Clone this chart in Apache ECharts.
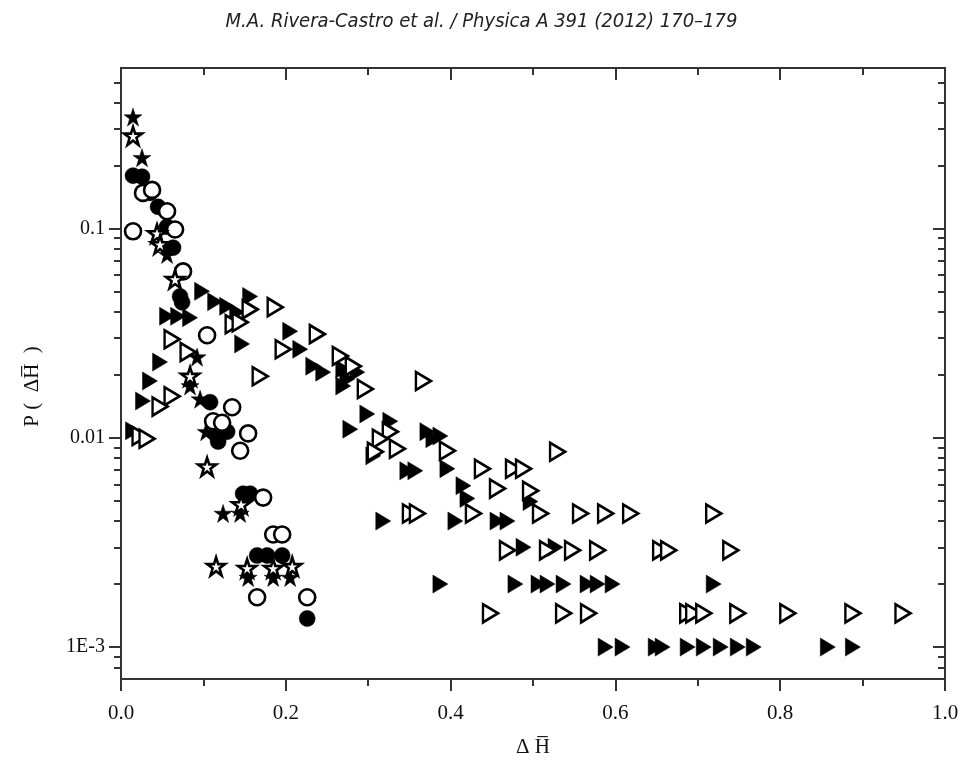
<!DOCTYPE html>
<html><head><meta charset="utf-8">
<script src="https://cdn.jsdelivr.net/npm/echarts@6/dist/echarts.min.js"></script>
<style>html,body{margin:0;padding:0;background:#fff}#c{width:963px;height:763px}</style>
</head><body><div id="c"></div>
<script>
// ---- data (x = ΔH̄, y = P) ----
const filledStars = [[0.0146,0.341],[0.0255,0.218],[0.0559,0.0752],[0.0923,0.0243],[0.0838,0.0177],[0.0960,0.0153],[0.1033,0.0107],[0.1239,0.00435],[0.1446,0.00435],[0.1543,0.00215],[0.1847,0.00215],[0.2053,0.00215]];
const openStars = [[0.0146,0.277],[0.0437,0.0946],[0.0474,0.0839],[0.0656,0.0572],[0.0838,0.0197],[0.1045,0.00727],[0.1458,0.0048],[0.1154,0.00243],[0.1531,0.00238],[0.1847,0.00238],[0.2078,0.00243]];
const filledCircles = [[0.0146,0.179],[0.0255,0.177],[0.0352,0.148],[0.0450,0.127],[0.0559,0.102],[0.0632,0.081],[0.0717,0.0474],[0.0741,0.0444],[0.1081,0.0148],[0.1166,0.0102],[0.1179,0.0096],[0.1288,0.0107],[0.1482,0.00541],[0.1567,0.00541],[0.1652,0.00274],[0.1774,0.00274],[0.1956,0.00274],[0.226,0.00137]];
const openCircles = [[0.0267,0.148],[0.0377,0.153],[0.0559,0.121],[0.0146,0.097],[0.0656,0.099],[0.0753,0.0624],[0.1045,0.0309],[0.1349,0.014],[0.1118,0.012],[0.1227,0.0118],[0.1543,0.0105],[0.1446,0.00867],[0.1725,0.00518],[0.1847,0.00345],[0.1956,0.00345],[0.1652,0.00173],[0.226,0.00173]];
const filledTriangles = [[0.0984,0.0501],[0.1567,0.0474],[0.1142,0.0447],[0.1288,0.0425],[0.1409,0.0398],[0.0559,0.0381],[0.0693,0.0381],[0.0838,0.0375],[0.2053,0.0323],[0.147,0.0281],[0.0474,0.023],[0.0352,0.0187],[0.0267,0.015],[0.0146,0.0108],[0.2175,0.0265],[0.2333,0.022],[0.2454,0.0206],[0.2697,0.0213],[0.2746,0.0191],[0.2868,0.0206],[0.2697,0.0177],[0.2989,0.013],[0.2783,0.011],[0.3268,0.012],[0.3718,0.0107],[0.3791,0.0099],[0.3876,0.0102],[0.3062,0.0082],[0.3475,0.00696],[0.3572,0.00696],[0.3961,0.00712],[0.4156,0.00591],[0.4204,0.00513],[0.497,0.00496],
 [0.3183,0.004],[0.4058,0.004],[0.4569,0.004],[0.469,0.004],
 [0.4885,0.003],[0.5273,0.003],
 [0.3876,0.002],[0.4787,0.002],[0.5067,0.002],[0.5176,0.002],[0.5371,0.002],[0.5662,0.002],[0.5784,0.002],[0.5966,0.002],[0.7193,0.002],
 [0.5881,0.001],[0.6087,0.001],[0.6489,0.001],[0.6573,0.001],[0.6877,0.001],[0.7072,0.001],[0.7278,0.001],[0.7485,0.001],[0.7679,0.001],[0.8578,0.001],[0.8882,0.001]];
const openTriangles = [[0.062,0.0296],[0.0814,0.0257],[0.1361,0.0349],[0.1567,0.0411],[0.1871,0.0421],[0.1446,0.0357],[0.1689,0.0197],[0.062,0.0158],[0.0474,0.0141],[0.0231,0.0102],[0.0316,0.0099],[0.1968,0.0265],[0.2382,0.0313],[0.2661,0.0246],[0.2819,0.022],[0.2965,0.0171],[0.367,0.0187],[0.3268,0.0107],[0.3147,0.0099],[0.3086,0.00858],[0.3354,0.00887],[0.3961,0.00867],[0.4386,0.00712],[0.4569,0.00572],[0.4763,0.00712],[0.4885,0.00712],[0.497,0.00559],[0.5298,0.00858],
 [0.3512,0.00435],[0.3597,0.00435],[0.4277,0.00435],[0.5091,0.00435],[0.5577,0.00435],[0.5881,0.00435],[0.6185,0.00435],[0.7193,0.00435],
 [0.469,0.0029],[0.5176,0.0029],[0.548,0.0029],[0.5784,0.0029],[0.6549,0.0029],[0.6646,0.0029],[0.74,0.0029],
 [0.4484,0.00145],[0.5371,0.00145],[0.5674,0.00145],[0.6877,0.00145],[0.695,0.00145],[0.7072,0.00145],[0.7485,0.00145],[0.8092,0.00145],[0.8882,0.00145],[0.949,0.00145]];

// ---- axes ----
const xMin = 0, xMax = 1.0, xStep = 0.2;
const xTickLabels = ['0.0','0.2','0.4','0.6','0.8','1.0'];
const yMin = 0.000704, yMax = 0.585;
const yMajorValues = [0.001, 0.01, 0.1];
const yTickLabels = ['1E-3', '0.01', '0.1'];
const titleText = 'M.A. Rivera-Castro et al. / Physica A 391 (2012) 170\u2013179';
const xName = '\u0394 H\u0305';
const yName = 'P (  \u0394H\u0305  )';

const L = v => Math.log10(v);
const yMinor = [];
for (let e = -4; e <= -1; e++) for (let k = 2; k <= 9; k++) {
  const v = k * Math.pow(10, e);
  if (v > yMin && v < yMax) yMinor.push(L(v));
}
const yMajor = yMajorValues.map(L);

const AX = '#333';
const serif = 'Liberation Serif';
const lineStyle = {color: AX, width: 2};

function yAx(pos, minor, inside) {
  return {
    type: 'value', position: pos, min: L(yMin), max: L(yMax),
    axisLine: {show: true, onZero: false, lineStyle},
    splitLine: {show: false},
    axisTick: {show: true, inside, length: minor ? 7 : 12, lineStyle, customValues: minor ? yMinor : yMajor},
    axisLabel: pos === 'left' && !minor ? {
      show: true, customValues: yMajor, margin: 16,
      fontFamily: serif, fontSize: 20, color: '#111',
      formatter: v => yTickLabels[yMajor.findIndex(m => Math.abs(m - v) < 1e-6)] || ''
    } : {show: false}
  };
}

const star = 'path://M50,0 L61.8,35.4 L100,35.4 L69.1,57.3 L80.9,95.1 L50,72.4 L19.1,95.1 L30.9,57.3 L0,35.4 L38.2,35.4 Z';
const toPts = arr => arr.map(p => [p[0], L(p[1])]);
function sc(name, data, symbol, size, open, rot) {
  return {
    type: 'scatter', name, data: toPts(data), symbol, symbolSize: size, symbolRotate: rot || 0,
    xAxisIndex: 0, yAxisIndex: 0, silent: true,
    itemStyle: open ? {color: '#fff', borderColor: '#000', borderWidth: 2.6, opacity: 1}
                    : {color: '#000', borderColor: '#000', borderWidth: 0.5, opacity: 1}
  };
}

const chart = echarts.init(document.getElementById('c'), null, {renderer: 'canvas'});
chart.setOption({
  animation: false,
  backgroundColor: '#fff',
  title: {text: titleText, left: 'center', top: 7,
    textStyle: {fontFamily: 'DejaVu Sans Condensed', fontStyle: 'italic', fontWeight: 'normal', fontSize: 20, color: '#222'}},
  grid: {left: 121, right: 18, top: 68, bottom: 82, containLabel: false},
  xAxis: [
    {type: 'value', position: 'bottom', min: xMin, max: xMax, interval: xStep,
     axisLine: {show: true, onZero: false, lineStyle}, splitLine: {show: false},
     axisTick: {show: true, inside: false, length: 12, lineStyle},
     minorTick: {show: true, splitNumber: 2, length: 7, lineStyle},
     axisLabel: {margin: 24, fontFamily: serif, fontSize: 21, color: '#111',
       formatter: v => xTickLabels[Math.round((v - xMin) / xStep)]},
     name: xName, nameLocation: 'middle', nameGap: 58,
     nameTextStyle: {fontFamily: serif, fontSize: 21, color: '#111'}},
    {type: 'value', position: 'top', min: xMin, max: xMax, interval: xStep,
     axisLine: {show: true, onZero: false, lineStyle}, splitLine: {show: false},
     axisTick: {show: true, inside: true, length: 12, lineStyle},
     minorTick: {show: true, splitNumber: 2, length: 7, lineStyle},
     axisLabel: {show: false}}
  ],
  yAxis: [
    Object.assign(yAx('left', false, false), {name: yName, nameLocation: 'middle', nameGap: 78, nameRotate: 90,
      nameTextStyle: {fontFamily: serif, fontSize: 21, color: '#111', padding: [0, 26, 0, 0]}}),
    yAx('left', true, false),
    yAx('right', false, true),
    yAx('right', true, true)
  ],
  series: [
    sc('filled triangles', filledTriangles, 'triangle', [18, 15], false, -90),
    sc('open triangles', openTriangles, 'triangle', [18, 15], true, -90),
    sc('filled circles', filledCircles, 'circle', 16, false),
    sc('open circles', openCircles, 'circle', 16, true),
    sc('filled stars', filledStars, star, 18, false),
    sc('open stars', openStars, star, 18, true)
  ]
});
</script>
</body></html>
